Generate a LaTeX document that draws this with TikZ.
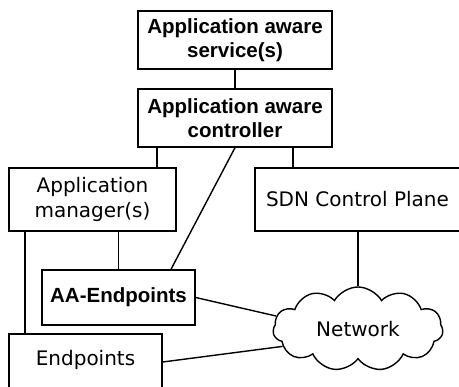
\documentclass[tikz,border=0pt]{standalone}
\usepackage{fontspec}
\setmainfont{DejaVu Sans}
\newfontfamily\boldsans[BoldFont={Liberation Sans Bold}]{Liberation Sans}
\usetikzlibrary{shapes.symbols}
\tikzset{
  box/.style={draw, line width=1.4pt, inner sep=0pt, align=center, font=\fontsize{20}{24.5}\selectfont},
  boldbox/.style={box, font=\boldsans\bfseries\fontsize{20.5}{24.5}\selectfont},
  wire/.style={line width=1.4pt},
}
\begin{document}
\begin{tikzpicture}[x=1pt, y=-1pt]
\useasboundingbox (0,0) rectangle (459,387);
\node[boldbox, minimum width=194pt, minimum height=58pt] (svc) at (235,40) {Application aware\\service(s)};
\node[boldbox, minimum width=194pt, minimum height=58pt] (ctrl) at (235,118) {Application aware\\controller};
\node[box, minimum width=167pt, minimum height=63pt] (mgr) at (92.5,199.5) {Application\\manager(s)};
\node[box, minimum width=217pt, minimum height=63pt] (sdn) at (363.5,199.5) {SDN Control Plane\hspace*{12pt}};
\node[boldbox, minimum width=153pt, minimum height=55pt] (aa) at (118.5,297.5) {AA-Endpoints};
\node[box, minimum width=153pt, minimum height=72pt, text height=15pt, text depth=24.4pt] (ep) at (85.5,370) {Endpoints};
\node[cloud, draw, line width=1.4pt, cloud puffs=11, cloud puff arc=120, aspect=2,
      minimum width=170pt, minimum height=84pt, inner sep=0pt,
      font=\fontsize{20}{24}\selectfont] (net) at (358,329) {Network};
\coordinate (xa) at (157,0);
\coordinate (xb) at (293,0);
\coordinate (xc) at (25,0);
\coordinate (xd) at (171,0);
\coordinate (ye) at (0,362);
\draw[wire] (svc.south) -- (ctrl.north);
\draw[wire] (ctrl.south -| xa) -- (mgr.north -| xa);
\draw[wire] (ctrl.south -| xb) -- (sdn.north -| xb);
\draw[wire] (ctrl.south) -- (aa.north -| xd);
\draw[wire] (mgr.south -| aa.north) -- (aa.north);
\draw[wire] (mgr.south -| xc) -- (ep.north -| xc);
\draw[wire] (sdn.south -| net.north) -- (net.north);
\draw[wire] (aa.east) -- (net.171);
\draw[wire] (ep.east |- ye) -- (net.193);
\end{tikzpicture}
\end{document}
